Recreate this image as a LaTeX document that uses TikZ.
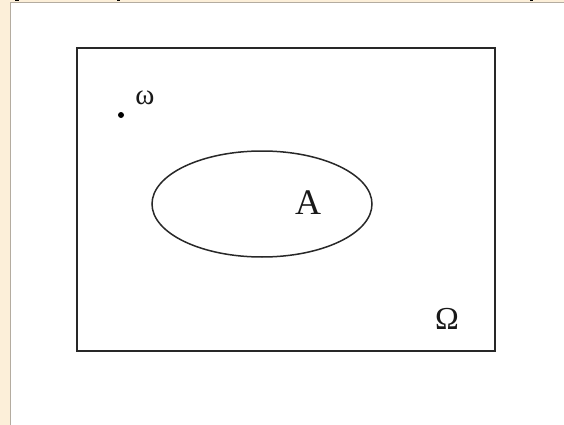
\documentclass[tikz,border=0pt]{standalone}
\usepackage{fontspec}
\usetikzlibrary{shapes.geometric}
\setmainfont{Liberation Serif}
\definecolor{beige}{HTML}{FCEFD9}
\definecolor{edgegray}{HTML}{B4ACA0}
\definecolor{boxline}{HTML}{282828}
\tikzset{
  frame/.style={draw=boxline, line width=2pt},
  setA/.style={draw=boxline, line width=1.5pt},
  lbl/.style={inner sep=0pt, anchor=center, text=black!90}
}
\begin{document}
\begin{tikzpicture}[x=1pt, y=-1pt]
\useasboundingbox (0,0) rectangle (564,425);
\fill[beige] (0,0) rectangle (564,425);
\fill[white] (10,3) rectangle (564,425);
\draw[edgegray, line width=1pt] (10,425) -- (10,3) -- (564,3);
\fill[black] (15,0) rectangle (19,1.5);
\fill[black] (117,0) rectangle (120,1.5);
\fill[black] (530,0) rectangle (533,1.5);
\node[frame, minimum width=418pt, minimum height=302pt, inner sep=0pt] (omega) at (286,199.5) {};
\node[setA, ellipse, minimum width=220pt, minimum height=106pt, inner sep=0pt] (A) at (262,204) {};
\node[lbl, font=\fontsize{36}{40}\selectfont] (Alabel) at (308,203) {A};
\node[lbl, font=\fontsize{32}{36}\selectfont] (Omlabel) at (447,319) {Ω};
\node[circle, fill=black, inner sep=0pt, minimum size=6pt] (pt) at (121,115) {};
\node[lbl, font=\fontsize{29}{32}\selectfont] (wlabel) at (145,98) {ω};
\end{tikzpicture}
\end{document}
